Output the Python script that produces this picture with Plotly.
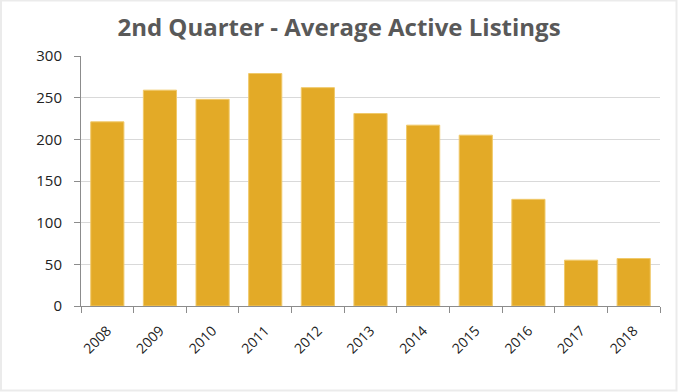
import plotly.graph_objects as go

years = ["2008", "2009", "2010", "2011", "2012", "2013", "2014", "2015", "2016", "2017", "2018"]
listings = [221, 259, 248, 279, 262, 231, 217, 205, 128, 55, 57]
y_ticks = [0, 50, 100, 150, 200, 250, 300]

W, H = 678, 392
L, R, T, B = 81, 18, 56, 86
pw, ph = W - L - R, H - T - B

def px(x):
    return (x - L) / pw

def py(y):
    return (H - B - y) / ph

fig = go.Figure(go.Bar(
    x=years, y=listings,
    marker=dict(color="#E3AA27", line=dict(color="#F0C96A", width=1)),
    hoverinfo="x+y",
))

fig.update_layout(
    width=W, height=H,
    margin=dict(l=L, r=R, t=T, b=B),
    paper_bgcolor="white", plot_bgcolor="white",
    font=dict(family="Open Sans", color="#222222", size=13),
    title=dict(text="<b>2nd Quarter - Average Active Listings</b>", x=0.5, xanchor="center",
               y=1 - 28 / H, yanchor="middle",
               font=dict(family="Open Sans", size=24, color="#595959")),
    bargap=0.37,
    showlegend=False,
    xaxis=dict(type="category", showgrid=False, showline=True, linecolor="#8c8c8c", linewidth=1,
               ticks="outside", tickson="boundaries", ticklen=6, tickcolor="#8c8c8c",
               tickangle=-45, ticklabelstandoff=10, tickfont=dict(size=14, color="#222222")),
    yaxis=dict(range=[0, 300], tickvals=y_ticks, showgrid=True, gridcolor="#d9d9d9", gridwidth=1,
               showline=True, linecolor="#8c8c8c", linewidth=1, ticks="outside", ticklen=6,
               tickcolor="#8c8c8c", zeroline=False, ticklabelstandoff=9,
               tickfont=dict(size=15, color="#222222")),
    shapes=[dict(type="rect", xref="paper", yref="paper",
                 x0=px(1), x1=px(W - 1.5), y0=py(0.5), y1=py(H - 1.5),
                 line=dict(color="#ebebeb", width=2), fillcolor="rgba(0,0,0,0)", layer="above")],
)

fig.write_html("out.html", config={"displayModeBar": False},
               post_script="document.body.style.margin='0px';")
